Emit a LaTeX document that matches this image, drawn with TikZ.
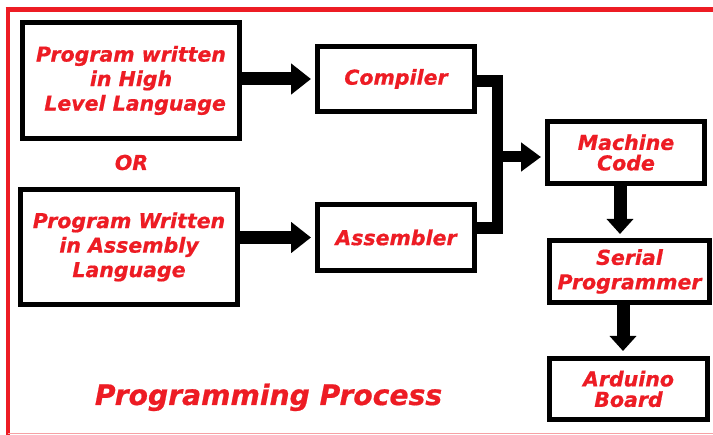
\documentclass[tikz,border=0pt]{standalone}
\usepackage{fontspec}
\setmainfont{DejaVu Sans}
\newfontfamily\heavy{DejaVu Sans}[FakeBold=0.7]
\usetikzlibrary{arrows.meta}
\definecolor{redtxt}{HTML}{ED1C24}
\definecolor{framered}{HTML}{ED1C24}
\definecolor{pinkline}{HTML}{F7A1A4}
\begin{document}
\begin{tikzpicture}[x=1pt,y=-1pt,
  box/.style={draw=black,line width=5pt,fill=white,inner sep=0pt,align=center,
    text=redtxt,font=\fontsize{20.5}{24.5}\heavy\bfseries\itshape},
  tight/.style={font=\fontsize{20.5}{20.5}\heavy\bfseries\itshape},
  lbl/.style={text=redtxt,inner sep=0pt},
  bigarrow/.style={line width=13pt,-{Triangle[width=30pt,length=20pt]}},
  vertarrow/.style={line width=13pt,-{Triangle[width=26pt,length=15pt]}},
  merge/.style={line width=11.5pt,line join=miter,miter limit=10}]
\fill[white] (0,0) rectangle (713,435);
\useasboundingbox (0,0) rectangle (713,435);
% frame
\draw[framered,line width=5pt] (5.5,9.5) -- (713,9.5);
\draw[framered,line width=4pt] (8,7) -- (8,435);
\draw[pinkline,line width=1.5pt] (8,433.5) -- (713,433.5);
% boxes
\node[box,minimum width=217pt,minimum height=116pt] (hll) at (131,80.5)
  {Program written\\in High\\\hspace*{0.4em}Level Language};
\node[box,minimum width=217pt,minimum height=115pt] (asl) at (129,247)
  {Program Written\\in Assembly\\Language};
\node[box,minimum width=157pt,minimum height=65pt] (comp) at (396,79) {Compiler};
\node[box,minimum width=157pt,minimum height=66pt] (asm) at (396,237.5) {Assembler};
\node[box,tight,minimum width=157pt,minimum height=62pt] (mc) at (626,152.5)
  {Machine\\Code};
\node[box,minimum width=160pt,minimum height=62pt] (sp) at (629.5,271.5)
  {Serial\\Programmer};
\node[box,tight,minimum width=158pt,minimum height=61pt] (ab) at (628.5,389)
  {Arduino\\Board};
% texts
\node[lbl,font=\fontsize{20.5}{24}\heavy\bfseries\itshape] (or) at (131.5,162.5) {OR};
\node[lbl,anchor=base,font=\fontsize{28.2}{32}\heavy\bfseries\itshape] (title)
  at (268.5,405) {Programming Process};
% arrows
\draw[bigarrow,shorten >=4pt] (hll.east |- comp.west) -- (comp.west);
\draw[bigarrow,shorten >=4pt] (asl.east |- asm.west) -- (asm.west);
\coordinate (jt) at (497.5,81);
\coordinate (jb) at (497.5,228);
\coordinate (jm) at (497.5,157);
\draw[merge] (comp.east |- jt) -- (jt) -- (jb) -- (asm.east |- jb);
\draw[line width=11pt,-{Triangle[width=28pt,length=20pt]},shorten >=4pt]
  (jm) -- (mc.west |- jm);
\draw[vertarrow,shorten >=4pt] ([xshift=-6pt]mc.south) -- ([xshift=-6pt]mc.south |- sp.north);
\draw[vertarrow,shorten >=5pt] ([xshift=-6.5pt]sp.south) -- ([xshift=-6.5pt]sp.south |- ab.north);
\end{tikzpicture}
\end{document}
